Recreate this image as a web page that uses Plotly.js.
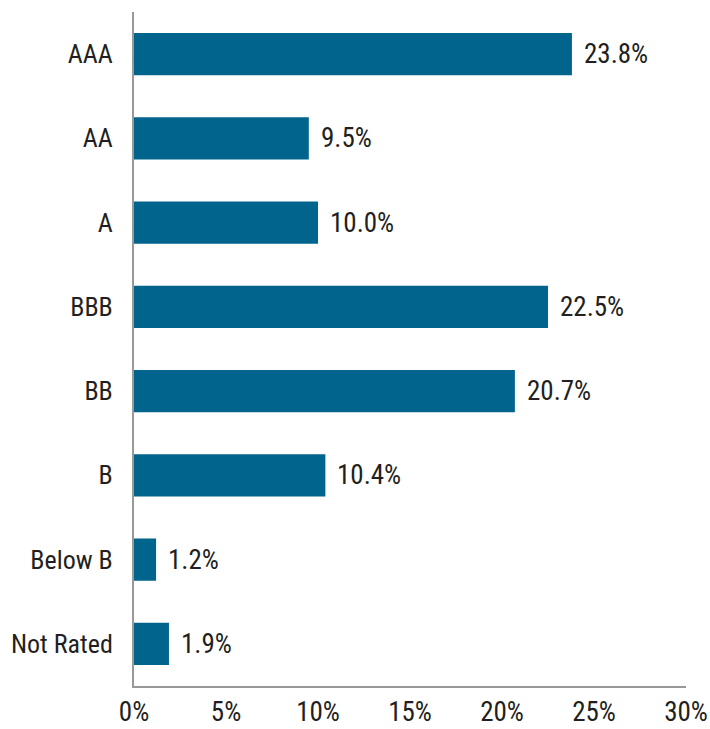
<!DOCTYPE html>
<html><head><meta charset="utf-8">
<script src="https://cdn.plot.ly/plotly-3.0.1.min.js"></script>
<style>html,body{margin:0;padding:0;background:#fff}</style>
</head><body><div id="chart" style="width:710px;height:729px"></div>
<script>
const categories = ["AAA","AA","A","BBB","BB","B","Below B","Not Rated"];
const values = [23.8, 9.5, 10.0, 22.5, 20.7, 10.4, 1.2, 1.9];
const tickVals = [0,5,10,15,20,25,30];
const tickText = ["0%","5%","10%","15%","20%","25%","30%"];

const FONT = "'Roboto Condensed', 'Liberation Sans Narrow', 'Liberation Sans', sans-serif";
const trace = {
  type: "bar", orientation: "h",
  x: values, y: categories,
  marker: {color: "#00648c"},
  width: 0.5,
  hoverinfo: "none"
};
const annotations = values.map((v,i)=>({
  x: v, y: categories[i], xref: "x", yref: "y",
  text: v.toFixed(1) + "%", showarrow: false,
  xanchor: "left", xshift: 10,
  font: {family: FONT, size: 27, color: "#231f20"}
}));
const layout = {
  width: 710, height: 729,
  margin: {l: 134, r: 24, t: 12, b: 43},
  showlegend: false,
  plot_bgcolor: "#fff", paper_bgcolor: "#fff",
  font: {family: FONT, size: 26, color: "#231f20"},
  xaxis: {
    range: [0, 30], tickvals: tickVals, ticktext: tickText,
    tickfont: {family: FONT, size: 27, color: "#231f20"},
    showgrid: false, zeroline: false, showline: true, linecolor: "#999", linewidth: 2,
    ticks: "", ticklabelstandoff: 1, fixedrange: true
  },
  yaxis: {
    categoryorder: "array", categoryarray: categories.slice().reverse(),
    autorange: false, range: [-0.5, 7.5],
    showgrid: false, zeroline: false, showline: true, linecolor: "#999", linewidth: 2,
    ticks: "", ticklabelstandoff: 14, fixedrange: true
  },
  annotations: annotations
};
Plotly.newPlot("chart", [trace], layout, {displayModeBar: false, staticPlot: true});
</script></body></html>
